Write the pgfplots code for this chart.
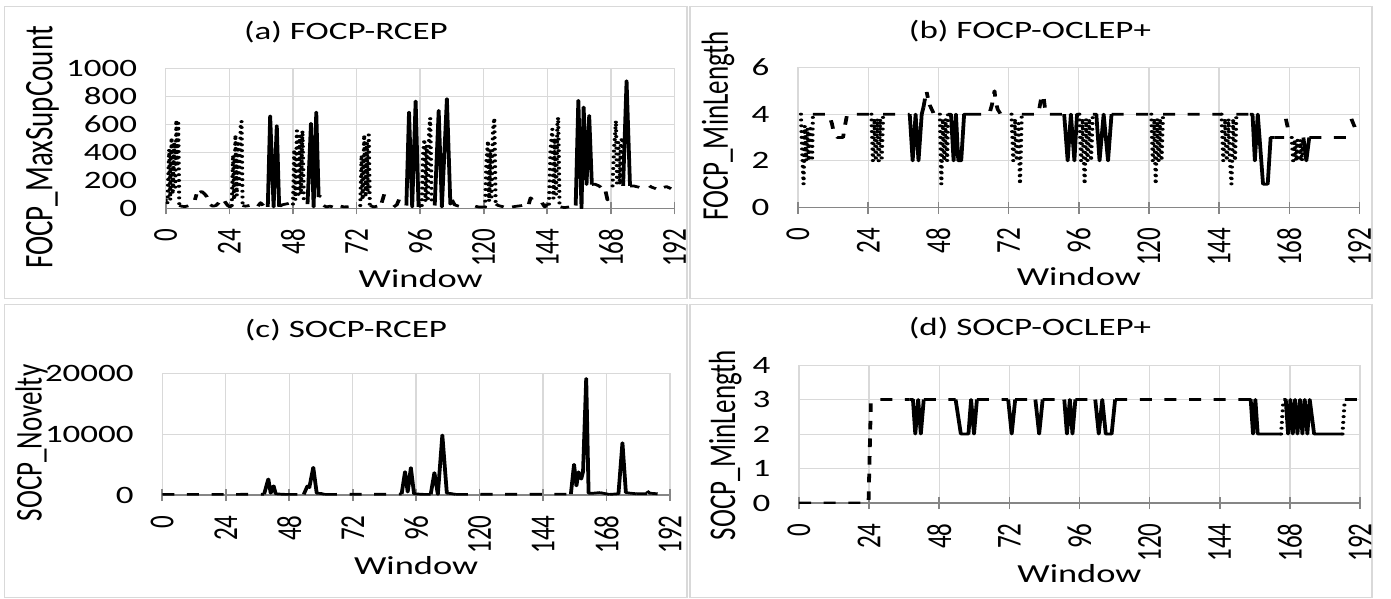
\documentclass[border=0pt]{standalone}
\usepackage{fontspec}
\setmainfont{Carlito}
\usepackage{graphicx}
\usepackage{pgfplots}
\usepackage{pgfplotstable}
\pgfplotsset{compat=1.18}
\definecolor{gridgray}{HTML}{D9D9D9}
\definecolor{axisgray}{HTML}{868686}
\definecolor{framegray}{HTML}{D9D9D9}

\pgfplotsset{
  panel/.style={
    scale only axis, anchor=south west,
    xmin=0, xmax=192, ymin=0,
    xtick={0,24,...,192},
    grid=major, grid style={draw=gridgray, line width=0.5pt},
    axis x line*=bottom, axis y line*=left,
    x axis line style={draw=axisgray, line width=0.6pt, -},
    y axis line style={draw=none},
    xtick style={draw=axisgray, line width=0.6pt},
    ytick style={draw=none},
    tick align=center, major tick length=6pt,
    scaled y ticks=false,
    /pgf/number format/1000 sep={},
    xticklabel={\pgfmathprintnumber[assume math mode=true]{\tick}},
    yticklabel={\pgfmathprintnumber[assume math mode=true]{\tick}},
    ticklabel style={font=\fontsize{12.5}{12.5}\selectfont, text=black},
    xticklabel style={rotate=90, anchor=east, inner sep=0pt, xshift=-7pt},
    yticklabel style={anchor=east, inner sep=0pt, xshift=-7pt},
    unbounded coords=jump,
  },
  dotS/.style={black, line width=1.5pt, line cap=round, line join=round, dash pattern=on 0pt off 2.9pt},
  dashS/.style={black, line width=1.35pt, line join=round, dash pattern=on 4.3pt off 4.5pt},
  solS/.style={black, line width=1.35pt, line join=round},
}

% ---------- (a) FOCP-RCEP ----------
\pgfplotstableread{
x y
5.1 20
6.0 15
7.2 12
8.5 18
nan nan
11.0 60
11.6 100
nan nan
12.8 115
13.6 120
14.8 100
15.6 80
nan nan
16.8 25
17.8 15
19.0 20
20.0 40
nan nan
22.2 50
23.4 20
24.2 10
24.9 20
nan nan
29.0 20
30.0 15
31.6 20
nan nan
34.8 15
35.8 40
36.8 20
nan nan
43.0 15
44.0 25
45.2 30
46.4 35
nan nan
57.7 80
58.3 95
nan nan
59.6 20
60.6 10
62.0 15
63.0 10
nan nan
66.0 15
67.4 10
69.0 12
nan nan
77.2 20
78.4 10
79.8 15
nan nan
81.5 40
82.6 110
83.8 60
nan nan
86.0 10
87.2 25
88.2 70
nan nan
95.4 10
96.3 25
nan nan
108.0 60
109.0 25
110.5 15
112.0 10
113.0 15
nan nan
116.8 15
118.0 10
120.0 10
nan nan
124.6 30
125.5 20
127.5 10
nan nan
130.7 10
132.5 15
134.5 20
nan nan
137.0 30
137.7 75
139.0 40
140.8 30
nan nan
142.0 40
143.0 10
144.0 30
nan nan
149.0 10
150.5 5
152.2 10
nan nan
160.8 170
162.0 172
163.5 160
164.2 150
nan nan
166.0 120
166.7 60
167.3 80
nan nan
175.2 160
176.5 160
178.7 150
nan nan
182.5 160
183.5 150
185.0 140
nan nan
188.0 150
189.0 155
190.7 140
}\aDash
\pgfplotstableread{
x y
0 60
0.6 30
1.3 420
1.7 60
2.2 505
2.6 100
3.2 470
3.6 150
4.0 630
4.4 300
4.7 610
5.1 20
nan nan
24.9 20
25.4 380
25.8 60
26.3 525
26.8 90
27.3 480
27.7 150
28.3 600
28.6 622
29.0 20
nan nan
48.0 30
48.5 420
48.9 60
49.5 555
50.0 80
50.5 520
51.0 100
51.6 555
52.1 60
52.6 30
nan nan
73.4 20
73.9 380
74.3 60
74.9 525
75.4 80
75.9 470
76.2 120
76.6 525
77.0 20
nan nan
96.6 20
97.1 380
97.6 494
98.0 50
98.5 450
98.9 70
99.4 560
99.8 645
100.4 20
nan nan
120.5 10
121.0 330
121.6 482
122.0 50
122.5 420
122.9 80
123.5 560
124.0 645
124.5 20
nan nan
144.6 30
145.2 420
145.9 566
146.3 70
146.8 500
147.3 100
147.8 600
148.1 650
148.6 20
nan nan
168.6 160
169.2 430
169.9 626
170.3 180
170.8 470
171.3 170
171.8 480
172.4 506
172.6 160
}\aDot
\pgfplotstableread{
x y
38.5 10
39.4 660
40.7 10
41.9 590
42.8 10
nan nan
53.5 30
54.8 607
55.8 10
56.8 687
57.7 80
nan nan
90.8 20
91.8 687
93.0 10
94.3 766
95.4 10
nan nan
101.5 20
103.0 699
104.2 10
106.1 783
107.4 30
108.0 60
nan nan
154.7 20
155.7 771
156.9 0
157.7 723
158.8 170
159.8 663
160.8 170
nan nan
172.6 160
173.9 911
175.2 160
}\aSolid

% ---------- (b) FOCP-OCLEP+ ----------
\pgfplotstableread{
x y
5.1 4
10.5 4
11.6 3.6
12.4 3.1
13.5 3.0
15.4 3.0
16.2 3.6
16.8 4.0
24.8 4.0
nan nan
29.1 4
38.2 4
nan nan
42.9 4.3
43.9 5.0
44.4 4.7
nan nan
45.0 4.4
46.5 4.0
48.5 4.0
nan nan
58.5 4
65.4 4
66.3 4.4
67.2 5.0
67.6 4.5
68.3 4.2
69.3 4.0
73.0 4.0
nan nan
76.5 4
82.0 4
82.6 4.3
83.3 4.8
83.9 4.8
84.4 4.3
85.0 4.0
91.0 4.0
nan nan
107.2 4
120.8 4
nan nan
124.8 4
144.8 4
nan nan
149.9 4
154.5 4
nan nan
163.0 3
166.2 3
nan nan
166.8 3.8
167.5 3.4
nan nan
174.8 3
188.6 3
nan nan
189.2 3.8
190.5 3.4
}\bDash
\pgfplotstableread{
x y
1.0 4
1.4 2.5
1.9 1
2.3 3.5
2.8 2
3.3 3.4
3.8 2
4.3 3.5
4.8 2
5.1 4
nan nan
25.1 4
25.6 2
26.1 3.8
26.6 2
27.1 3.8
27.6 2
28.1 3.8
28.6 2
29.1 4
nan nan
48.5 4
49.0 1
49.5 3.8
50.0 2
50.5 3.8
51.0 2
51.3 4
nan nan
73.0 4
73.6 2
74.2 3.8
74.8 2
75.4 3.6
75.9 1
76.5 4
nan nan
96.2 4
96.8 2
97.3 3.8
98.0 1
98.5 3.8
99.0 2
99.6 3.8
100.2 2
100.8 4
nan nan
120.8 4
121.3 2
121.8 3.8
122.3 1
122.8 3.8
123.3 2
123.8 3.8
124.3 2
124.8 4
nan nan
144.8 4
145.4 2
146.0 3.8
146.6 2
147.2 3.8
147.7 2
148.2 1
148.8 3.8
149.4 2
149.9 4
nan nan
168.8 3
169.3 2
169.8 2.9
170.3 2
170.8 2.9
171.3 2
171.8 2.9
172.3 2
172.8 3
}\bDot
\pgfplotstableread{
x y
38.2 4
39.2 2
40.2 4
41.2 2
42.3 4
42.9 4.3
nan nan
51.3 4
52.3 4
53.2 2
54.0 4
54.8 2
55.8 2
56.8 4
58.5 4
nan nan
91.0 4
92.2 2
93.3 4
94.5 2
95.4 4
96.2 4
nan nan
100.8 4
102.0 4
103.1 2
104.5 4
106.0 2
107.2 4
nan nan
154.5 4
155.4 4
156.2 2
157.2 4
159.0 1
160.6 1
161.6 3
163.0 3
nan nan
172.8 3
173.8 2
174.8 3
}\bSolid

% ---------- (c) SOCP-RCEP ----------
\pgfplotstableread{
x y
0 100
24 100
38.5 120
nan nan
46.5 100
53.5 100
nan nan
61.5 100
90.5 150
nan nan
99 100
101.5 100
nan nan
111 100
154.5 150
nan nan
165.5 400
169 100
nan nan
179.4 200
183.2 200
nan nan
183.3 650
184.3 300
187.3 200
}\cDash
\pgfplotstableread{
x y
38.5 120
40.1 2620
41.0 300
42.1 1500
42.9 200
44.5 150
46.5 100
nan nan
53.5 100
54.9 1480
55.6 1200
57.1 4530
58.4 300
60.0 250
61.5 100
nan nan
90.5 150
91.8 3820
92.8 500
94.0 4480
95.2 200
97.0 150
99.0 100
nan nan
101.5 100
102.9 3660
104.2 100
105.9 9830
107.6 300
109.0 250
111.0 100
nan nan
154.5 150
155.7 5020
156.6 1500
157.4 3800
158.4 2600
159.1 3800
160.3 19100
161.2 300
163.0 300
165.5 400
nan nan
169.0 100
172.5 200
174.0 8570
175.3 400
177.0 300
179.4 200
}\cSolid

% ---------- (d) SOCP-OCLEP+ ----------
\pgfplotstableread{
x y
0 0
23.8 0
24.6 2.9
25.6 3
37.9 3
nan nan
42.7 3
53.6 3
nan nan
60.9 3
71.6 3
nan nan
74.0 3
80.9 3
nan nan
83.4 3
90.8 3
nan nan
94.6 3
101.4 3
nan nan
108.2 3
153.7 3
nan nan
186.8 3
192 3
}\dDash
\pgfplotstableread{
x y
165.0 2
165.8 3
nan nan
186.0 2
186.8 3
}\dDot
\pgfplotstableread{
x y
37.9 3
39.0 3
39.8 2
40.8 3
41.7 2
42.7 3
nan nan
53.6 3
55.4 2
58.0 2
58.9 3
59.9 2
60.9 3
nan nan
71.6 3
72.8 2
74.0 3
nan nan
80.9 3
82.2 2
83.4 3
nan nan
90.8 3
91.7 2
92.7 3
93.6 2
94.6 3
nan nan
101.4 3
102.6 2
103.8 3
105.0 2
107.0 2
108.2 3
nan nan
153.7 3
154.6 3
155.4 2
156.2 3
157.0 2
165.0 2
nan nan
165.8 3
166.6 3
167.4 2
168.2 3
169.0 2
169.8 3
170.6 2
171.5 3
172.3 2
173.1 3
174.0 2
174.8 3
176.3 2
186.0 2
}\dSolid

\begin{document}
\scalebox{1.4}[1]{%
\begin{tikzpicture}[x=0.5pt,y=-0.5pt]
\useasboundingbox (0,0) rectangle (993.57,599);
% chart area frames
\draw[framegray, line width=0.5pt] (3.1,6.7) rectangle (490.7,298);
\draw[framegray, line width=0.5pt] (492.9,6.7) rectangle (980,298);
\draw[framegray, line width=0.5pt] (3.1,304) rectangle (490.7,597);
\draw[framegray, line width=0.5pt] (492.9,304) rectangle (980,597);
% lower-left corners of the four plot areas
\coordinate (pa) at (118.4,208.3);
\coordinate (pb) at (570,207.5);
\coordinate (pc) at (115.9,495);
\coordinate (pd) at (570.7,503);

\begin{axis}[panel, at={(pa)}, width=181.7pt, height=70pt,
  ymax=1000, ytick={0,200,...,1000}]
\addplot[dashS] table {\aDash};
\addplot[dotS] table {\aDot};
\addplot[solS] table {\aSolid};
\end{axis}

\begin{axis}[panel, at={(pb)}, width=200.55pt, height=70pt,
  ymax=6, ytick={0,2,4,6}]
\addplot[dashS] table {\bDash};
\addplot[dotS] table {\bDot};
\addplot[solS] table {\bSolid};
\end{axis}

\begin{axis}[panel, at={(pc)}, width=181.35pt, height=61pt,
  ymax=20000, ytick={0,10000,20000}]
\addplot[dashS] table {\cDash};
\addplot[solS] table {\cSolid};
\end{axis}

\begin{axis}[panel, at={(pd)}, width=200.35pt, height=69pt,
  ymax=4, ytick={0,1,2,3,4}]
\addplot[dashS] table {\dDash};
\addplot[dotS] table {\dDot};
\addplot[solS] table {\dSolid};
\end{axis}

% titles and axis titles
\node[font=\fontsize{12.5}{12.5}\selectfont] at (247.1,32) {(a) FOCP-RCEP};
\node[font=\fontsize{12.5}{12.5}\selectfont] at (735.7,31) {(b) FOCP-OCLEP+};
\node[font=\fontsize{12.5}{12.5}\selectfont] at (247.1,330) {(c) SOCP-RCEP};
\node[font=\fontsize{12.5}{12.5}\selectfont] at (735.7,328) {(d) SOCP-OCLEP+};
\node[font=\fontsize{13}{13}\selectfont] at (300.5,279) {Window};
\node[font=\fontsize{13}{13}\selectfont] at (770.6,277) {Window};
\node[font=\fontsize{13}{13}\selectfont] at (297.2,566) {Window};
\node[font=\fontsize{13}{13}\selectfont] at (771,574) {Window};
\node[rotate=90, font=\fontsize{14.5}{14.5}\selectfont] at (30.4,147.5) {FOCP\_MaxSupCount};
\node[rotate=90, font=\fontsize{13.5}{13.5}\selectfont] at (512.9,126) {FOCP\_MinLength};
\node[rotate=90, font=\fontsize{13.5}{13.5}\selectfont] at (22.5,443) {SOCP\_Novelty};
\node[rotate=90, font=\fontsize{13.5}{13.5}\selectfont] at (518,445) {SOCP\_MinLength};
\end{tikzpicture}}
\end{document}
